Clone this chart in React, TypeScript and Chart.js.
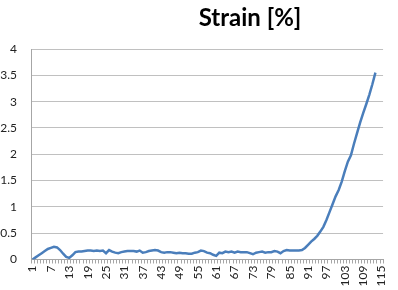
import React, { useEffect, useRef } from "react";
import { Chart, registerables } from "chart.js";

Chart.register(...registerables);

const categories: string[] = Array.from({ length: 115 }, (_, i) => String(i + 1));
const labeledTicks: number[] = [1, 7, 13, 19, 25, 31, 37, 43, 49, 55, 61, 67, 73, 79, 85, 91, 97, 103, 109, 115];
const strainValues: number[] = [
  0, 0.04, 0.08, 0.12, 0.16, 0.2, 0.22, 0.24, 0.23, 0.18,
  0.11, 0.05, 0.03, 0.08, 0.14, 0.15, 0.15, 0.16, 0.17, 0.17,
  0.16, 0.17, 0.16, 0.17, 0.12, 0.18, 0.15, 0.13, 0.12, 0.14,
  0.15, 0.16, 0.16, 0.16, 0.15, 0.17, 0.13, 0.14, 0.16, 0.17,
  0.18, 0.17, 0.14, 0.13, 0.14, 0.14, 0.13, 0.12, 0.13, 0.12,
  0.12, 0.11, 0.11, 0.13, 0.14, 0.17, 0.16, 0.13, 0.12, 0.09,
  0.07, 0.13, 0.12, 0.15, 0.14, 0.15, 0.13, 0.15, 0.14, 0.14,
  0.14, 0.12, 0.1, 0.13, 0.14, 0.15, 0.13, 0.14, 0.14, 0.16,
  0.15, 0.12, 0.16, 0.18, 0.17, 0.17, 0.17, 0.17, 0.18, 0.22,
  0.28, 0.34, 0.39, 0.45, 0.53, 0.62, 0.75, 0.9, 1.05, 1.2,
  1.32, 1.48, 1.68, 1.86, 1.98, 2.2, 2.4, 2.6, 2.78, 2.95,
  3.13, 3.33, 3.55,
];
const titleText = "Strain [%]";

const titlePlugin = {
  id: "customTitle",
  afterDraw(chart: any) {
    const ctx = chart.ctx;
    ctx.save();
    ctx.font = "bold 24px Lato";
    ctx.fillStyle = "#000";
    ctx.textAlign = "center";
    ctx.textBaseline = "alphabetic";
    ctx.fillText(titleText, 250, 26);
    ctx.restore();
  },
};

export default function App() {
  const ref = useRef<HTMLCanvasElement | null>(null);
  useEffect(() => {
    document.body.style.margin = "0";
    const canvas = ref.current!;
    const chart = new Chart(canvas, {
      type: "line",
      data: {
        labels: categories,
        datasets: [
          {
            data: strainValues,
            borderColor: "#4A7EBB",
            borderWidth: 2.5,
            pointRadius: 0,
            tension: 0,
            fill: false,
          },
        ],
      },
      options: {
        animation: false,
        responsive: false,
        layout: { padding: { top: 49, right: 13, left: 0, bottom: 0 } },
        plugins: { legend: { display: false }, title: { display: false }, tooltip: { enabled: false } },
        scales: {
          x: {
            type: "category",
            offset: true,
            grid: {
              display: true,
              offset: true,
              drawOnChartArea: false,
              drawTicks: true,
              tickLength: 4,
              color: "#a6a6a6",
            },
            border: { display: true, color: "#a6a6a6", width: 1 },
            ticks: {
              autoSkip: false,
              maxRotation: 90,
              minRotation: 90,
              padding: 2,
              color: "#222",
              font: { family: "Lato", size: 12 },
              callback: (_v: any, i: number) =>
                labeledTicks.includes(i + 1) ? categories[i] : "",
            },
            afterFit: (s: any) => {
              s.height = 30.5;
            },
          },
          y: {
            min: 0,
            max: 4,
            ticks: {
              stepSize: 0.5,
              padding: 14,
              color: "#222",
              font: { family: "Lato", size: 12 },
              callback: (v: any) => String(v),
            },
            grid: { color: "#c0c0c0", drawTicks: false, lineWidth: 1 },
            border: { display: true, color: "#a6a6a6" },
            afterFit: (s: any) => {
              s.width = 31;
            },
          },
        },
      },
      plugins: [titlePlugin],
    });
    return () => chart.destroy();
  }, []);
  return <canvas ref={ref} width={398} height={290} style={{ display: "block" }} />;
}
